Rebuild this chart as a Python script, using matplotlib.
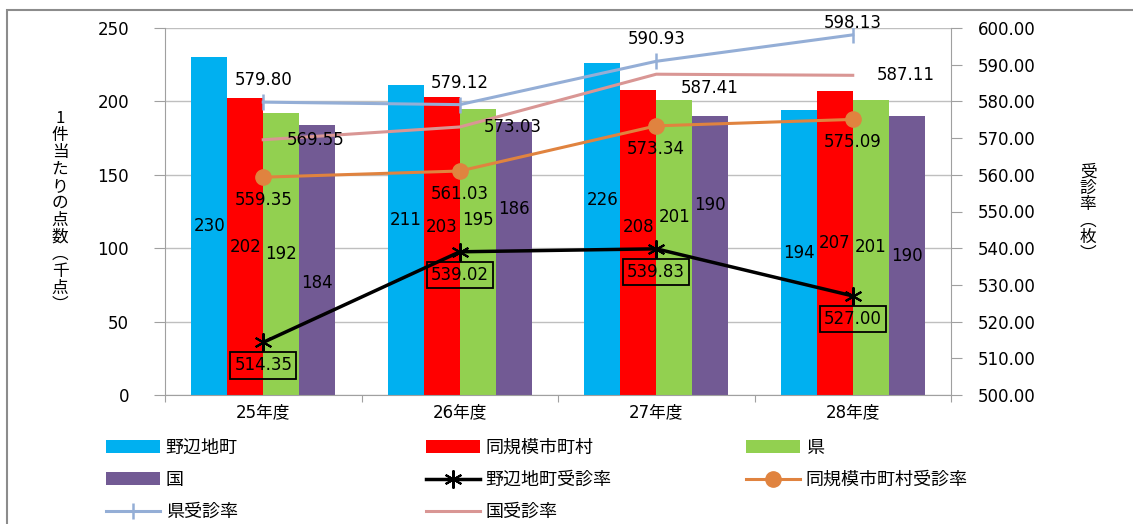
import numpy as np
import matplotlib.pyplot as plt
from matplotlib.patches import Rectangle
from matplotlib.lines import Line2D

plt.rcParams['font.family'] = ['DejaVu Sans', 'Noto Sans CJK JP']

years = ['25年度', '26年度', '27年度', '28年度']

# 1件当たりの点数（千点）
pts_nohechi = [230, 211, 226, 194]
pts_same = [202, 203, 208, 207]
pts_pref = [192, 195, 201, 201]
pts_nation = [184, 186, 190, 190]

# 受診率（枚）
rate_nohechi = [514.35, 539.02, 539.83, 527.00]
rate_same = [559.35, 561.03, 573.34, 575.09]
rate_pref = [579.80, 579.12, 590.93, 598.13]
rate_nation = [569.55, 573.03, 587.41, 587.11]

bar_names = ['野辺地町', '同規模市町村', '県', '国']
bar_colors = ['#00B0F0', '#FF0000', '#92D050', '#725A94']

# ラベルの上下ずらし（ピクセル）
bar_lbl_dy = [[0, 20, 29, 0],
              [0, 19, 15, 0],
              [0, 32, 30, 0],
              [-23, 49, 51, 0]]

fig = plt.figure(figsize=(11.33, 5.24), dpi=100)
ax = fig.add_axes([165/1133, 1-395/524, 786/1133, 367/524])
ax2 = ax.twinx()

x = np.arange(len(years))
w = 0.183
series = [pts_nohechi, pts_same, pts_pref, pts_nation]
bars = []
for i, (vals, c) in enumerate(zip(series, bar_colors)):
    xs = x + (i - 1.5) * w
    b = ax.bar(xs, vals, w, color=c, zorder=2)
    bars.append(b)
    for j, v in enumerate(vals):
        ax.annotate(str(v), (xs[j], v / 2), xytext=(0, bar_lbl_dy[i][j]),
                    textcoords='offset pixels', ha='center', va='center',
                    fontsize=12, zorder=5)

ax.set_xlim(-0.5, 3.5)
ax.set_ylim(0, 250)
ax.set_yticks(np.arange(0, 251, 50))
ax.grid(axis='y', color='#BFBFBF', lw=1, zorder=0)
ax.set_axisbelow(True)
ax.set_xticks([-0.5, 0.5, 1.5, 2.5, 3.5])
ax.set_xticklabels([])
ax.set_xticks(x, minor=True)
ax.set_xticklabels(years, minor=True, fontsize=12)
ax.tick_params(axis='x', which='minor', length=0, pad=6)
ax.tick_params(axis='x', which='major', length=5, color='#A0A0A0')
ax.tick_params(axis='y', length=8, pad=18, labelsize=12, color='#A0A0A0')
for s in ['top', 'right']:
    ax.spines[s].set_visible(False)
for s in ['left', 'bottom']:
    ax.spines[s].set_color('#A0A0A0')

ax2.set_ylim(500, 600)
ax2.set_yticks(np.arange(500, 601, 10))
ax2.set_yticklabels(['%.2f' % v for v in np.arange(500, 601, 10)])
ax2.tick_params(axis='y', length=8, pad=11, labelsize=12, color='#A0A0A0')
for s in ['top', 'left', 'bottom']:
    ax2.spines[s].set_visible(False)
ax2.spines['right'].set_color('#A0A0A0')

l_nation, = ax2.plot(x, rate_nation, color='#D99694', lw=2.2, zorder=3)
l_pref, = ax2.plot(x, rate_pref, color='#94AED6', lw=2.2, marker='|',
                   ms=12, mew=1.8, zorder=3)
l_same, = ax2.plot(x, rate_same, color='#E0833F', lw=2.2, marker='o',
                   ms=11, zorder=3)
l_noh, = ax2.plot(x, rate_nohechi, color='black', lw=2.5, marker=(6, 2, 0),
                  ms=13, mew=1.5, zorder=4)

pref_dy = [22, 22, 22, 12]
for j, v in enumerate(rate_pref):
    ax2.annotate('%.2f' % v, (x[j], v), xytext=(0, pref_dy[j]),
                 textcoords='offset pixels', ha='center', va='center', fontsize=12)
nat_dy = [0, 0, -14, 0]
for j, v in enumerate(rate_nation):
    ax2.annotate('%.2f' % v, (x[j], v), xytext=(24, nat_dy[j]),
                 textcoords='offset pixels', ha='left', va='center', fontsize=12)
for j, v in enumerate(rate_same):
    ax2.annotate('%.2f' % v, (x[j], v), xytext=(0, -23),
                 textcoords='offset pixels', ha='center', va='center', fontsize=12)
for j, v in enumerate(rate_nohechi):
    ax2.annotate('%.2f' % v, (x[j], v), xytext=(0, -23),
                 textcoords='offset pixels', ha='center', va='center', fontsize=12,
                 bbox=dict(boxstyle='square,pad=0.25', fc='none', ec='black', lw=1.3))

# 縦書きの軸ラベル
fig.text(60/1133, 1-212/524, '\n'.join('1件当たりの点数︵千点︶'), ha='center',
         va='center', fontsize=12, linespacing=1.0, family='Noto Sans CJK JP')
fig.text(1088/1133, 1-213/524, '\n'.join('受診率︵枚︶'), ha='center',
         va='center', fontsize=12, linespacing=0.95, family='Noto Sans CJK JP')

# 凡例（3列）
def lh(**kw):
    return Line2D([], [], **kw)

cols = [
    [(bars[0], '野辺地町'), (bars[3], '国'),
     (lh(color='#94AED6', lw=2.2, marker='|', ms=12, mew=1.8), '県受診率')],
    [(bars[1], '同規模市町村'),
     (lh(color='black', lw=2.5, marker=(6, 2, 0), ms=13, mew=1.5), '野辺地町受診率'),
     (lh(color='#D99694', lw=2.2), '国受診率')],
    [(bars[2], '県'),
     (lh(color='#E0833F', lw=2.2, marker='o', ms=11), '同規模市町村受診率')],
]
col_x = [106, 426, 746]
for cx, items in zip(col_x, cols):
    fig.legend([h for h, _ in items], [t for _, t in items], loc='upper left',
               bbox_to_anchor=(cx/1133, 1-439/524), frameon=False,
               prop={'family': 'Noto Sans CJK JP', 'size': 13},
               handlelength=3.0, handletextpad=0.3, labelspacing=0.78,
               borderpad=0, borderaxespad=0)

fig.patches.append(Rectangle((7/1133, -0.1), 1.2, 1-10/524+0.1, fill=False,
                             ec='#8C8C8C', lw=1.5, transform=fig.transFigure,
                             figure=fig))

fig.savefig('out.png', dpi=100)
